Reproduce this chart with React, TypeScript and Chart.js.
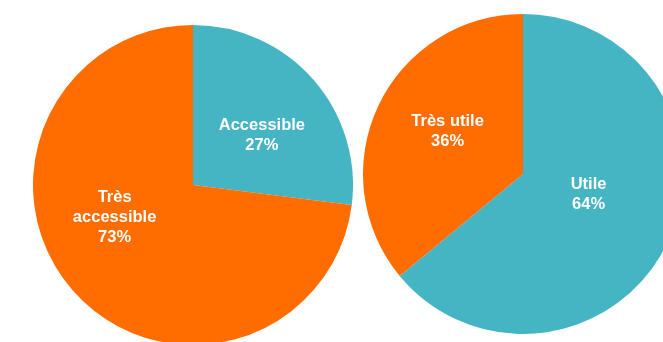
import React, { useEffect, useRef } from "react";
import { Chart, registerables } from "chart.js";

Chart.register(...registerables);

// Left pie: accessibility
const accessLabels = ["Accessible", "Très accessible"];
const accessValues = [27, 73];

// Right pie: usefulness
const usefulLabels = ["Utile", "Très utile"];
const usefulValues = [64, 36];

const ORANGE = "#FF6C00";
const TEAL = "#45B4C3";

const accessColors = [TEAL, ORANGE];
const usefulColors = [TEAL, ORANGE];

// per-label placement (fraction of radius, angular shift in degrees)
const accessPlacement = [
  { r: 0.53, shift: 5.7, lines: ["Accessible"] },
  { r: 0.53, shift: 19, lines: ["Très", "accessible"] },
];
const usefulPlacement = [
  { r: 0.43, shift: -7.6, lines: ["Utile"] },
  { r: 0.54, shift: 4, lines: ["Très utile"] },
];

const sliceLabelPlugin = {
  id: "sliceLabels",
  afterDatasetsDraw(chart: any, _args: any, opts: any) {
    const ctx = chart.ctx;
    const meta = chart.getDatasetMeta(0);
    const data = chart.data.datasets[0].data as number[];
    const total = data.reduce((a: number, b: number) => a + b, 0);
    const place = opts.placement || [];
    ctx.save();
    ctx.fillStyle = "#ffffff";
    ctx.textAlign = "center";
    ctx.textBaseline = "middle";
    ctx.font = "bold 16.5px 'Liberation Sans', Arial, sans-serif";
    meta.data.forEach((arc: any, i: number) => {
      const p = place[i] || { r: 0.5, shift: 0, lines: [String(chart.data.labels[i])] };
      const mid = (arc.startAngle + arc.endAngle) / 2 + (p.shift * Math.PI) / 180;
      const rr = arc.outerRadius * p.r;
      const x = arc.x + Math.cos(mid) * rr;
      const y = arc.y + Math.sin(mid) * rr;
      const pct = Math.round((data[i] / total) * 100) + "%";
      const lines = [...p.lines, pct];
      const lh = 20;
      const y0 = y - ((lines.length - 1) * lh) / 2;
      lines.forEach((t: string, k: number) => ctx.fillText(t, x, y0 + k * lh));
    });
    ctx.restore();
  },
};

function Pie({
  labels,
  values,
  colors,
  placement,
  style,
}: {
  labels: string[];
  values: number[];
  colors: string[];
  placement: any[];
  style: React.CSSProperties;
}) {
  const ref = useRef<HTMLCanvasElement>(null);
  useEffect(() => {
    if (!ref.current) return;
    const chart = new Chart(ref.current, {
      type: "pie",
      data: {
        labels,
        datasets: [
          {
            data: values,
            backgroundColor: colors,
            borderWidth: 0,
            hoverOffset: 0,
            offset: 0,
          },
        ],
      },
      options: {
        responsive: false,
        animation: false,
        devicePixelRatio: 1,
        layout: { padding: 0 },
        plugins: {
          legend: { display: false },
          tooltip: { enabled: false },
          sliceLabels: { placement },
        } as any,
      },
      plugins: [sliceLabelPlugin],
    });
    return () => chart.destroy();
  }, []);
  return (
    <canvas
      ref={ref}
      width={320}
      height={320}
      style={{ position: "absolute", width: 320, height: 320, ...style }}
    />
  );
}

export default function App() {
  return (
    <div
      style={{
        position: "fixed",
        left: 0,
        top: 0,
        width: 663,
        height: 342,
        overflow: "hidden",
        background: "#ffffff",
      }}
    >
      <Pie
        labels={accessLabels}
        values={accessValues}
        colors={accessColors}
        placement={accessPlacement}
        style={{ left: 33, top: 25 }}
      />
      <Pie
        labels={usefulLabels}
        values={usefulValues}
        colors={usefulColors}
        placement={usefulPlacement}
        style={{ left: 363, top: 14 }}
      />
    </div>
  );
}
